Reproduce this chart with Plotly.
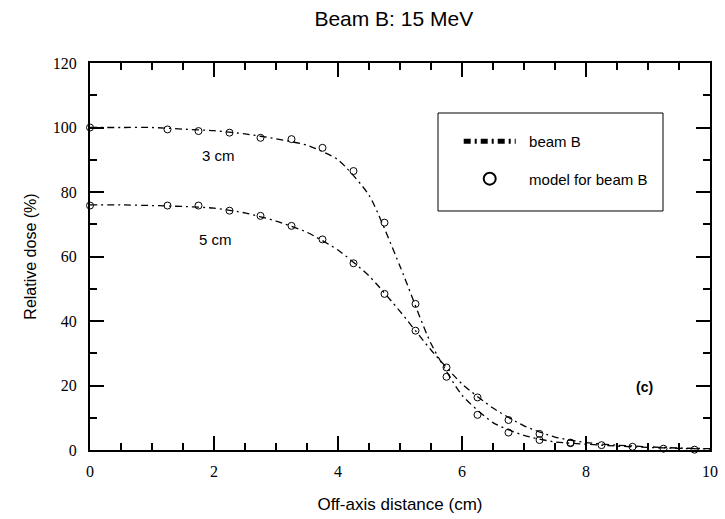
import plotly.graph_objects as go

# Measured profiles (dash-dot curves), sampled every 0.5 cm
x_meas = [0, 0.5, 1.0, 1.5, 2.0, 2.5, 3.0, 3.5, 4.0, 4.5, 5.0,
          5.5, 6.0, 6.5, 7.0, 7.5, 8.0, 8.5, 9.0, 9.5, 10.0]
meas_3cm = [100, 100, 100, 99.5, 99, 98, 96.5, 94.5, 90, 79, 57,
            33, 17, 8.5, 4.5, 2.5, 1.8, 1.2, 0.8, 0.5, 0.3]
meas_5cm = [76, 76, 75.8, 75.5, 75, 73.5, 71, 67.5, 62, 54, 43,
            31, 20.5, 13, 7.5, 4, 2.3, 1.5, 1.0, 0.6, 0.4]

# Model points (open circles)
x_model_3cm = [0, 1.25, 1.75, 2.25, 2.75, 3.25, 3.75, 4.25, 4.75,
               5.25, 5.75, 6.25, 6.75, 7.25, 7.75]
model_3cm = [100, 99.4, 98.9, 98.4, 96.8, 96.4, 93.7, 86.5, 70.5,
             45.3, 22.7, 10.9, 5.4, 3.1, 2.1]
x_model_5cm = [0, 1.25, 1.75, 2.25, 2.75, 3.25, 3.75, 4.25, 4.75,
               5.25, 5.75, 6.25, 6.75, 7.25, 7.75, 8.25, 8.75, 9.25, 9.75]
model_5cm = [75.8, 75.8, 75.8, 74.2, 72.6, 69.5, 65.3, 57.9, 48.4,
             37.0, 25.6, 16.3, 9.3, 5.0, 2.3, 1.5, 1.0, 0.4, 0.1]

x_ticks = [0, 2, 4, 6, 8, 10]
y_ticks = [0, 20, 40, 60, 80, 100, 120]

SANS = "Liberation Sans, Arial, sans-serif"
SERIF = "Liberation Serif, Times New Roman, serif"
DASH = "7px,4px,2px,4px"
PAD = "\u00a0\u00a0"

fig = go.Figure()

fig.add_trace(go.Scatter(
    x=x_meas, y=meas_3cm, mode="lines", name=PAD + "beam B",
    legendgroup="meas", showlegend=True, cliponaxis=False,
    line=dict(color="black", width=1.3, dash=DASH, shape="spline", smoothing=0.6),
))
fig.add_trace(go.Scatter(
    x=x_meas, y=meas_5cm, mode="lines", name=PAD + "beam B",
    legendgroup="meas", showlegend=False, cliponaxis=False,
    line=dict(color="black", width=1.3, dash=DASH, shape="spline", smoothing=0.6),
))
fig.add_trace(go.Scatter(
    x=x_model_3cm, y=model_3cm, mode="markers", name=PAD + "model for beam B",
    legendgroup="model", showlegend=True, cliponaxis=False,
    marker=dict(symbol="circle-open", size=7, color="black", line=dict(width=1)),
))
fig.add_trace(go.Scatter(
    x=x_model_5cm, y=model_5cm, mode="markers", name=PAD + "model for beam B",
    legendgroup="model", showlegend=False, cliponaxis=False,
    marker=dict(symbol="circle-open", size=7, color="black", line=dict(width=1)),
))

# Depth labels and panel tag
fig.add_annotation(x=2.08, y=91.2, text="3 cm", showarrow=False,
                   font=dict(family=SANS, size=15, color="black"))
fig.add_annotation(x=2.03, y=65.3, text="5 cm", showarrow=False,
                   font=dict(family=SANS, size=15, color="black"))
fig.add_annotation(x=8.94, y=19.6, text="<b>(c)</b>", showarrow=False,
                   font=dict(family=SANS, size=14, color="black"))

# Legend frame
fig.add_shape(type="rect", xref="paper", yref="paper",
              x0=0.5613, x1=0.9242, y0=0.6176, y1=0.8708,
              line=dict(color="black", width=1), fillcolor="rgba(0,0,0,0)")

axis_common = dict(
    showline=True, linecolor="black", linewidth=2, mirror="ticks",
    ticks="inside", ticklen=14, tickwidth=2, tickcolor="black",
    showgrid=False, zeroline=False, automargin=False,
    tickfont=dict(family=SERIF, size=16, color="black"),
)

fig.update_xaxes(
    range=[0, 10], tickvals=x_ticks, ticktext=[str(v) for v in x_ticks],
    minor=dict(ticks="inside", ticklen=7, tickwidth=2, tickcolor="black", dtick=0.5),
    ticklabelstandoff=6,
    title=dict(text="Off-axis distance (cm)", font=dict(family=SANS, size=17, color="black"),
               standoff=19),
    **axis_common,
)
fig.update_yaxes(
    range=[0, 120], tickvals=y_ticks, ticktext=[str(v) for v in y_ticks],
    minor=dict(ticks="inside", ticklen=7, tickwidth=2, tickcolor="black", dtick=10),
    ticklabelstandoff=8,
    title=dict(text="Relative dose (%)", font=dict(family=SANS, size=16, color="black"),
               standoff=12),
    **axis_common,
)

fig.update_layout(
    width=725, height=519,
    margin=dict(l=90, r=15, t=63, b=69),
    paper_bgcolor="white", plot_bgcolor="white",
    title=dict(text="Beam B: 15 MeV", x=0.49, xref="paper", xanchor="center",
               y=0.965, yanchor="middle",
               font=dict(family=SANS, size=21, color="black")),
    legend=dict(x=0.5947, xanchor="left", y=0.84, yanchor="top",
                bgcolor="rgba(0,0,0,0)", borderwidth=0,
                font=dict(family=SANS, size=15, color="black"),
                itemwidth=52, itemsizing="constant", tracegroupgap=15),
)

fig.write_html("out.html")
